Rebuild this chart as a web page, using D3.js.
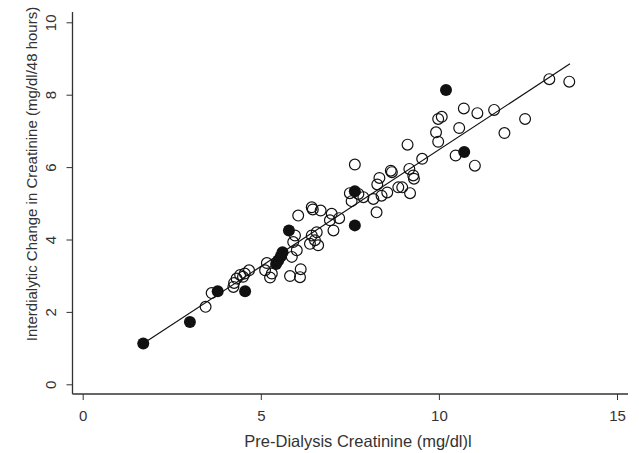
<!DOCTYPE html>
<html lang="en">
<head>
  <meta charset="UTF-8">
  <title>Interdialytic Change in Creatinine</title>
  <script src="https://d3js.org/d3.v7.min.js"></script>
  <style>
    body {
      margin: 0;
      background: #fff;
    }
    svg {
      font-family: Arial, "Liberation Sans", sans-serif;
    }
    .axis text {
      font-size: 15px;
      fill: #333;
    }
    .axis line {
      stroke: #333;
    }
    .title {
      font-size: 15px;
      fill: #333;
    }
    .x-title {
      font-size: 16.5px;
    }
  </style>
</head>
<body>
  <svg width="639" height="453"></svg>

  <script>
    // open circles: [pre-dialysis creatinine, interdialytic change]
    const openPoints = [
      [3.45, 2.14], [3.62, 2.52], [4.23, 2.69], [4.25, 2.80], [4.32, 2.92],
      [4.42, 3.02], [4.50, 2.97], [4.55, 3.06], [4.67, 3.15], [5.12, 3.15],
      [5.17, 3.35], [5.26, 2.95], [5.31, 3.06], [5.82, 2.99], [6.10, 2.96],
      [6.12, 3.18], [5.87, 3.52], [6.01, 3.70], [5.91, 3.93], [5.96, 4.11],
      [6.43, 4.11], [6.52, 3.98], [6.38, 3.88], [6.61, 3.84], [6.57, 4.20],
      [6.05, 4.66], [6.43, 4.89], [6.46, 4.83], [6.68, 4.80], [6.99, 4.71],
      [6.94, 4.53], [7.20, 4.59], [7.04, 4.25], [7.50, 5.28], [7.55, 5.06],
      [7.74, 5.26], [7.88, 5.17], [7.64, 6.07], [8.16, 5.12], [8.25, 4.75],
      [8.27, 5.52], [8.33, 5.70], [8.39, 5.21], [8.55, 5.30], [8.65, 5.90],
      [8.68, 5.86], [8.86, 5.44], [8.97, 5.44], [9.12, 6.62], [9.17, 5.95],
      [9.19, 5.28], [9.28, 5.77], [9.30, 5.68], [9.53, 6.23], [9.92, 6.96],
      [9.98, 6.70], [9.98, 7.33], [10.08, 7.39], [10.47, 6.32], [10.57, 7.08],
      [10.70, 7.62], [11.01, 6.04], [11.08, 7.49], [11.55, 7.58], [11.84, 6.94],
      [12.42, 7.33], [13.10, 8.43], [13.66, 8.36]
    ];

    // filled circles
    const filledPoints = [
      [1.70, 1.13], [3.01, 1.72], [3.79, 2.57], [4.56, 2.57], [5.43, 3.32],
      [5.49, 3.42], [5.56, 3.53], [5.61, 3.65], [5.79, 4.25], [7.64, 5.33],
      [7.64, 4.39], [10.20, 8.13], [10.71, 6.42]
    ];

    // fitted line: y = intercept + slope * x over the data range
    const fitIntercept = 0.03;
    const fitSlope = 0.645;
    const fitRange = [1.70, 13.68];

    const xTicks = [0, 5, 10, 15];
    const yTicks = [0, 2, 4, 6, 8, 10];

    const xTitle = "Pre-Dialysis Creatinine (mg/dl)l";
    const yTitle = "Interdialytic Change in Creatinine (mg/dl/48 hours)";

    const svg = d3.select("svg");

    const x = d3.scaleLinear().domain([0, 15]).range([82.7, 617]);
    const y = d3.scaleLinear().domain([0, 10]).range([384.3, 22.3]);

    // plot frame (axis lines reach a bit past the ticks)
    const frameLeft = 72.5, frameBottom = 394, frameRight = 628, frameTop = 12;

    svg.append("line")
      .attr("x1", frameLeft).attr("x2", frameLeft)
      .attr("y1", frameTop).attr("y2", frameBottom)
      .attr("stroke", "#333").attr("stroke-width", 1.3);
    svg.append("line")
      .attr("x1", frameLeft).attr("x2", frameRight)
      .attr("y1", frameBottom).attr("y2", frameBottom)
      .attr("stroke", "#333").attr("stroke-width", 1.3);

    const xAxis = d3.axisBottom(x).tickValues(xTicks).tickSize(6).tickPadding(10);
    svg.append("g")
      .attr("class", "axis")
      .attr("transform", `translate(0,${frameBottom})`)
      .call(xAxis)
      .call(g => g.select(".domain").remove());

    const yAxis = d3.axisLeft(y).tickValues(yTicks).tickSize(6);
    svg.append("g")
      .attr("class", "axis")
      .attr("transform", `translate(${frameLeft},0)`)
      .call(yAxis)
      .call(g => g.select(".domain").remove())
      .call(g => g.selectAll(".tick text")
        .attr("x", null).attr("dy", null)
        .attr("transform", "translate(-17,0) rotate(-90)")
        .attr("text-anchor", "middle"));

    // fitted line
    const line = d3.line()
      .x(d => x(d))
      .y(d => y(fitIntercept + fitSlope * d));
    svg.append("path")
      .attr("d", line(fitRange))
      .attr("fill", "none")
      .attr("stroke", "#111")
      .attr("stroke-width", 1.2);

    svg.append("g").selectAll("circle")
      .data(openPoints)
      .join("circle")
      .attr("cx", d => x(d[0]))
      .attr("cy", d => y(d[1]))
      .attr("r", 5.4)
      .attr("fill", "none")
      .attr("stroke", "#111")
      .attr("stroke-width", 1.2);

    svg.append("g").selectAll("circle")
      .data(filledPoints)
      .join("circle")
      .attr("cx", d => x(d[0]))
      .attr("cy", d => y(d[1]))
      .attr("r", 6)
      .attr("fill", "#111");

    svg.append("text")
      .attr("class", "title x-title")
      .attr("x", 358)
      .attr("y", 447)
      .attr("text-anchor", "middle")
      .text(xTitle);

    svg.append("text")
      .attr("class", "title")
      .attr("transform", "translate(37,174) rotate(-90)")
      .attr("text-anchor", "middle")
      .text(yTitle);
  </script>
</body>
</html>
